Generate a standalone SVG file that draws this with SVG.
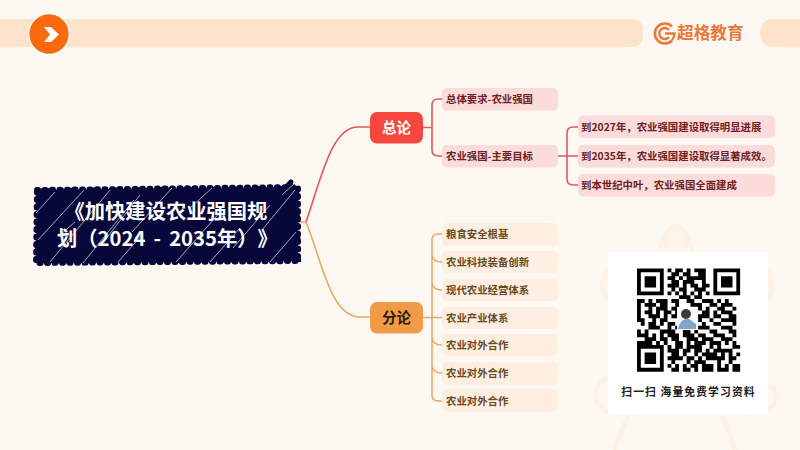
<svg xmlns="http://www.w3.org/2000/svg" width="800" height="450" viewBox="0 0 800 450">
<style>
text{font-family:"Noto Sans CJK SC","Noto Sans",sans-serif;font-weight:700;text-spacing-trim:space-all}
.red{fill:#fcdcda}.org{fill:#fdeee1}
.rt{fill:#6e2222;font-size:10.4px}.ot{fill:#6a4a22;font-size:10.4px}
.c1{fill:none;stroke:#e4575c;stroke-width:1.6}.c2{fill:none;stroke:#eda765;stroke-width:1.6}
.hatch{stroke:#cfcfe6;stroke-width:.8;fill:none}
.wm{fill:none;stroke:#fdf2e7;stroke-width:5}
</style>
<rect width="800" height="450" fill="#fef8f2"/>
<g id="watermark" class="wm">
<path d="M653 270C660 250 666 226 676 226C686 226 692 250 698 270" fill="#fdf4ea"/>
<path d="M608 270C600 280 602 295 608 300M768 270C774 285 772 295 768 300"/>
<path d="M608 378C592 385 590 405 610 413H640M768 385C790 395 770 415 745 414"/>
<path d="M628 415L614 450M722 415L735 450"/>
</g>
<g id="header">
<path d="M0 19H632a10 10 0 0 1 10 14a10 10 0 0 1 -10 14H0z" fill="#fde3c9"/>
<path d="M800 19H772a12 14 0 0 0 0 28H800z" fill="#fde3c9"/>
<circle cx="49" cy="34" r="20.3" fill="#f9690e" stroke="#fff" stroke-width="1.3"/>
<path d="M44 27H51L59 34.500L51 42H44L50 34.500z" fill="#fff"/>
</g>
<g id="logo">
<path d="M672 26.500A10 10 0 1 0 672 40.500" fill="none" stroke="#e8793a" stroke-width="2.600"/>
<path d="M669 30A5.500 5.500 0 1 0 669 37M665 33.500H674.500A9 9 0 0 1 672 40" fill="none" stroke="#e8793a" stroke-width="2.400"/>
<text x="677" y="39" font-size="16.700" style="fill:#e8793a">超格教育</text>
</g>
<g id="connectors">
<path class="c2" d="M298 222H306C322 260 330 317 360 317H370"/>
<path class="c1" d="M306 222C322 175 332 127 358 127H370"/>
<path class="c1" d="M423 127.500H432M442 99H438Q432 99 432 105V150Q432 156 438 156H442"/>
<path class="c1" d="M558 156H578M578 127H573Q567 127 567 133V179Q567 185 573 185H578"/>
<path class="c2" d="M423 317.500H442M442 234H438Q432 234 432 240V395Q432 401 438 401H442M432 255Q433 262 442 262M432 283Q433 290 442 290M432 338Q433 345 442 345M432 366Q433 373 442 373"/>
</g>
<g id="title">
<path d="M37 190L298 187V261L36 263z" fill="#07073a" stroke="#07073a" stroke-width="6" stroke-dasharray="1 6.500" stroke-linecap="round" stroke-linejoin="round"/>
<path d="M38 190L297 188L299 260L37 262z" fill="none" stroke="#07073a" stroke-width="4" stroke-dasharray="2 9" stroke-linecap="round"/>
<path d="M285 188L291 182" fill="none" stroke="#07073a" stroke-width="5" stroke-linecap="round"/>
<path class="hatch" d="M36 213L55 192M38 240L84 190M50 262L110 190M83 263L134 200M105 240L140 195M132 232L172 188M176 262L222 210M210 262L240 228M233 248L270 205M262 230L295 190M282 195L296 182M270 262L296 232M190 208L212 188M60 235L75 222M118 262L142 235"/>
<text x="64.500" y="219" font-size="20.300" fill="#fff">《加快建设农业强国规</text>
<text x="57" y="245.500" font-size="20.300" fill="#fff" word-spacing="3.500">划（2024 - 2035年）》</text>
</g>
<g id="zonglun"><rect x="370" y="112" width="53" height="31.500" rx="7" fill="#f5473d"/><text x="396.500" y="133" font-size="14.500" text-anchor="middle" fill="#fff">总论</text></g>
<g id="fenlun"><rect x="370" y="302" width="53" height="31.500" rx="7" fill="#f29b46"/><text x="396.500" y="323" font-size="14.500" text-anchor="middle" fill="#2c1a08">分论</text></g>
<g id="a1"><rect class="red" x="442" y="88" width="116" height="22.500" rx="5"/><text class="rt" x="446" y="103">总体要求-农业强国</text></g>
<g id="a2"><rect class="red" x="442" y="145" width="116" height="22.500" rx="5"/><text class="rt" x="446" y="160">农业强国-主要目标</text></g>
<g id="a3"><rect class="red" x="578" y="115.500" width="197" height="22.500" rx="5"/><text class="rt" x="581" y="131">到2027年，农业强国建设取得明显进展</text></g>
<g id="a4"><rect class="red" x="578" y="145" width="197" height="22.500" rx="5"/><text class="rt" x="581" y="160">到2035年，农业强国建设取得显著成效。</text></g>
<g id="a5"><rect class="red" x="578" y="174" width="197" height="22.500" rx="5"/><text class="rt" x="581" y="189">到本世纪中叶，农业强国全面建成</text></g>
<g id="b1"><rect class="org" x="442" y="223" width="116" height="23" rx="5"/><text class="ot" x="446" y="238">粮食安全根基</text></g>
<g id="b2"><rect class="org" x="442" y="251" width="116" height="22" rx="5"/><text class="ot" x="446" y="266">农业科技装备创新</text></g>
<g id="b3"><rect class="org" x="442" y="279" width="116" height="22" rx="5"/><text class="ot" x="446" y="294">现代农业经营体系</text></g>
<g id="b4"><rect class="org" x="442" y="307" width="116" height="22" rx="5"/><text class="ot" x="446" y="322">农业产业体系</text></g>
<g id="b5"><rect class="org" x="442" y="334" width="116" height="22" rx="5"/><text class="ot" x="446" y="349">农业对外合作</text></g>
<g id="b6"><rect class="org" x="442" y="362" width="116" height="23" rx="5"/><text class="ot" x="446" y="377">农业对外合作</text></g>
<g id="b7"><rect class="org" x="442" y="389" width="116" height="23" rx="5"/><text class="ot" x="446" y="405">农业对外合作</text></g>
<g id="qr">
<rect x="608" y="252" width="160" height="163" fill="#fff"/>
<g transform="translate(637 268.500) scale(3.820)">
<defs><path id="f" fill-rule="evenodd" d="M0 0h7v7h-7zM1 1v5h5v-5zM2 2h3v3h-3z"/></defs>
<use href="#f"/><use href="#f" x="20"/><use href="#f" y="20"/>
<path fill="none" stroke="#000" d="M8 .5h1M10 .5h2M13 .5h1M15 .5h3M9 1.500h2M12 1.500h2M16 1.500h2M8 2.500h2M11 2.500h1M13 2.500h2M15 2.500h3M9 3.500h2M12 3.500h3M17 3.500h1M8 4.500h3M12 4.500h1M14 4.500h2M17 4.500h2M9 5.500h1M11 5.500h2M15 5.500h3M8 6.500h1M10 6.500h1M12 6.500h1M14 6.500h1M16 6.500h1M18 6.500h1M11 7.500h3M15 7.500h2M0 8.500h2M3 8.500h1M5 8.500h3M9 8.500h2M13 8.500h2M17 8.500h3M21 8.500h1M23 8.500h1M0 9.500h1M2 9.500h3M6 9.500h2M10 9.500h1M14 9.500h3M19 9.500h2M22 9.500h3M0 10.500h1M3 10.500h1M5 10.500h3M9 10.500h2M16 10.500h1M18 10.500h1M21 10.500h2M25 10.500h1M0 11.500h1M2 11.500h2M5 11.500h1M7 11.500h2M10 11.500h1M17 11.500h2M20 11.500h1M22 11.500h3M0 12.500h1M3 12.500h3M7 12.500h1M9 12.500h2M16 12.500h3M20 12.500h2M24 12.500h2M0 13.500h2M4 13.500h1M6 13.500h2M16 13.500h1M19 13.500h1M22 13.500h4M1 14.500h1M3 14.500h2M6 14.500h1M8 14.500h2M17 14.500h1M20 14.500h2M25 14.500h1M3 15.500h3M8 15.500h1M10 15.500h1M16 15.500h3M22 15.500h3M0 16.500h1M2 16.500h1M6 16.500h3M9 16.500h1M12 16.500h2M15 16.500h1M19 16.500h2M24 16.500h2M0 17.500h3M4 17.500h1M6 17.500h1M8 17.500h3M12 17.500h3M16 17.500h2M20 17.500h3M25 17.500h1M2 18.500h3M6 18.500h2M9 18.500h2M13 18.500h3M17 18.500h3M22 18.500h2M24 18.500h1M0 19.500h4M5 19.500h1M7 19.500h1M10 19.500h2M13 19.500h1M15 19.500h3M19 19.500h3M23 19.500h1M25 19.500h1M8 20.500h1M10 20.500h2M13 20.500h4M19 20.500h1M21 20.500h1M25 20.500h2M8 21.500h3M12 21.500h2M15 21.500h2M18 21.500h1M20 21.500h5M9 22.500h2M12 22.500h1M15 22.500h1M17 22.500h3M20 22.500h1M22 22.500h1M24 22.500h1M26 22.500h1M8 23.500h3M11 23.500h1M13 23.500h2M16 23.500h1M18 23.500h5M24 23.500h2M9 24.500h1M13 24.500h1M15 24.500h3M21 24.500h1M24 24.500h1M8 25.500h1M10 25.500h1M12 25.500h1M14 25.500h2M17 25.500h3M21 25.500h1M23 25.500h1M25 25.500h2M9 26.500h2M12 26.500h2M15 26.500h1M17 26.500h3M21 26.500h3M25 26.500h2"/>
</g>
<rect x="677" y="307" width="21" height="23" fill="#fff"/>
<path d="M678 329C679 322 684 318 689 319L696 324V329z" fill="#7ea6cc"/>
<circle cx="686" cy="314" r="5" fill="#3c3a42"/>
<text x="688.500" y="396" font-size="10.800" text-anchor="middle" letter-spacing="1.100" fill="#1a1a1a">扫一扫 海量免费学习资料</text>
</g>
</svg>
